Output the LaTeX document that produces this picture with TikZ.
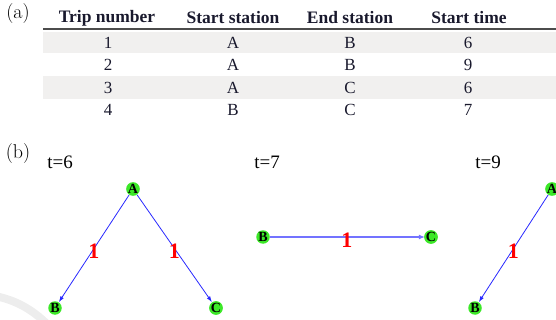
\documentclass[tikz,border=0pt]{standalone}
\usepackage{fontspec}
\newfontfamily\tnr{Liberation Serif}
\usetikzlibrary{arrows.meta}
\definecolor{nodegreen}{RGB}{60,232,40}
\definecolor{edgeblue}{RGB}{40,40,255}
\definecolor{softblue}{RGB}{115,115,255}
\definecolor{bandgray}{RGB}{241,240,239}
\definecolor{hdrink}{RGB}{25,25,45}
\begin{document}
\begin{tikzpicture}[x=1pt,y=-1pt,
  stn/.style={circle,fill=nodegreen,inner sep=0pt,minimum size=13.5pt,font=\tnr\bfseries\fontsize{14}{14}\selectfont},
  edge/.style={draw=edgeblue,line width=0.8pt,-{Latex[length=6pt,width=4pt]}},
  softedge/.style={draw=softblue,line width=1.6pt,-{Latex[length=6pt,width=5pt,fill=edgeblue]},shorten >=-1pt},
  wlab/.style={text=red,font=\tnr\bfseries\fontsize{22}{22}\selectfont,inner sep=0pt},
  hdr/.style={font=\tnr\bfseries\fontsize{17.5}{17.5}\selectfont,text=hdrink},
  cell/.style={font=\tnr\fontsize{17}{17}\selectfont,text=hdrink},
  panel/.style={font=\fontsize{20}{20}\selectfont},
  tlab/.style={font=\tnr\fontsize{19}{19}\selectfont}]
\useasboundingbox (0,0) rectangle (556,320);
% faint arc
\draw[black!7,line width=8pt] (-5,296) .. controls (15,300) and (32,309) .. (48,325);
% (a) table
\node[panel] (pa) at (18,14) {(a)};
\fill[bandgray] (43,32) rectangle (556,53);
\fill[bandgray] (43,76) rectangle (556,99);
\draw[black!70,line width=1.3pt] (43,29) -- (556,29);
\node[hdr] (h1) at (107,18) {Trip number};
\node[hdr] (h2) at (233,18) {Start station};
\node[hdr] (h3) at (350,18) {End station};
\node[hdr] (h4) at (469,18) {Start time};
\node[cell] (r1a) at (108,43) {1}; \node[cell] (r1b) at (233,43) {A}; \node[cell] (r1c) at (350,43) {B}; \node[cell] (r1d) at (468,43) {6};
\node[cell] (r2a) at (108,65) {2}; \node[cell] (r2b) at (233,65) {A}; \node[cell] (r2c) at (350,65) {B}; \node[cell] (r2d) at (468,65) {9};
\node[cell] (r3a) at (108,88) {3}; \node[cell] (r3b) at (233,88) {A}; \node[cell] (r3c) at (350,88) {C}; \node[cell] (r3d) at (468,88) {6};
\node[cell] (r4a) at (108,110) {4}; \node[cell] (r4b) at (233,110) {B}; \node[cell] (r4c) at (350,110) {C}; \node[cell] (r4d) at (468,110) {7};
% (b) graphs
\node[panel] (pb) at (18,154) {(b)};
\node[tlab] (t6) at (60,162) {t=6};
\node[tlab] (t7) at (267,162) {t=7};
\node[tlab] (t9) at (488,162) {t=9};
% t=6
\node[stn] (A6) at (133,189) {A};
\node[stn] (B6) at (55,308) {B};
\node[stn] (C6) at (216,308) {C};
\draw[edge] (A6) -- (B6) node[wlab,midway,yshift=-3pt] (l61) {1};
\draw[edge] (A6) -- (C6) node[wlab,midway,yshift=-3pt] (l62) {1};
% t=7
\node[stn] (B7) at (263,237) {B};
\node[stn] (C7) at (431,237) {C};
\draw[softedge] (B7) -- (C7) node[wlab,midway,yshift=-3pt] (l71) {1};
% t=9
\node[stn] (A9) at (552,189) {A};
\node[stn] (B9) at (475,308) {B};
\draw[edge] (A9) -- (B9) node[wlab,midway,yshift=-3pt] (l91) {1};
\end{tikzpicture}
\end{document}
